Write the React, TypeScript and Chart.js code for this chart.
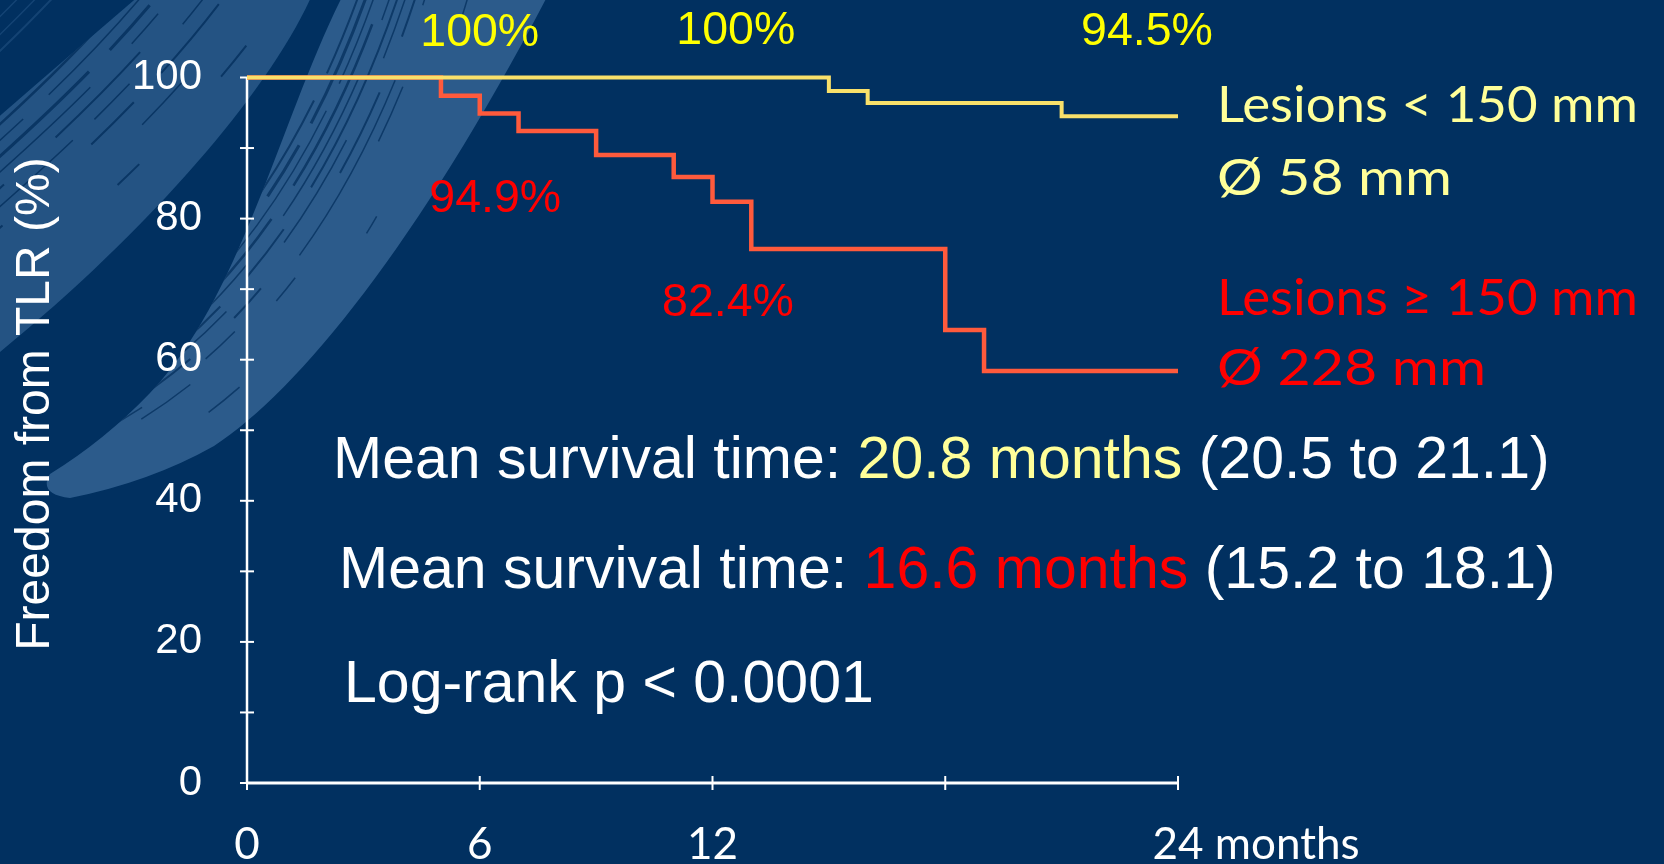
import React, { useEffect, useRef } from 'react';
import { Chart, registerables } from 'chart.js';

Chart.register(...registerables);

// ---------------- data ----------------
const shortLesionMonths = [0, 15, 16, 21, 24];
const shortLesionSurvival = [100, 98.1, 96.4, 94.5, 94.5];
const longLesionMonths = [0, 5, 6, 7, 9, 11, 12, 13, 18, 19, 24];
const longLesionSurvival = [100, 97.4, 94.9, 92.4, 89.0, 85.9, 82.4, 75.7, 64.2, 58.4, 58.4];

const xTickValues = [0, 6, 12, 18, 24];
const xTickLabels = ['0', '6', '12', '', '24'];
const xUnitLabel = 'months';
const yTickStep = 10;
const yLabelStep = 20;
const yAxisTitle = 'Freedom from TLR (%)';

const pctLabelTexts = ['100%', '100%', '94.5%', '94.9%', '82.4%'];
const pctLabelMonths = [6.0, 12.6, 23.2, 6.4, 12.4];
const pctLabelValues = [104.5, 104.8, 104.6, 81.0, 66.2];
const pctLabelGroups = ['short', 'short', 'short', 'long', 'long'];

const legendLines = ['Lesions < 150 mm', 'Ø 58 mm', 'Lesions ≥ 150 mm', 'Ø 228 mm'];
const legendGroups = ['short', 'short', 'long', 'long'];

const meanLineShort = ['Mean survival time: ', '20.8 months', ' (20.5 to 21.1)'];
const meanLineLong = ['Mean survival time: ', '16.6 months', ' (15.2 to 18.1)'];
const logRankText = 'Log-rank p < 0.0001';

// ---------------- styles ----------------
const W = 1664;
const H = 864;
const BG = '#013060';
const BRUSH = '#2C5B8B';
const WHITE = '#FFFFFF';
const LINE_SHORT = '#F9E06A';
const LINE_LONG = '#FF5A3C';
const PCT_SHORT = '#FFFF00';
const PCT_LONG = '#FF0000';
const TXT_SHORT = '#FFFF99';
const TXT_LONG = '#FF0000';
const ARIAL = "'Liberation Sans', Arial, sans-serif";
const CAL = "Lato, 'Open Sans', sans-serif";

const legendX = 1217;
const legendBaselines = [122, 195, 315, 385];
const legendWidths = [421, 235, 421, 269];

function drawBrush(ctx: CanvasRenderingContext2D) {
  // band 1 (upper-left, streaky)
  const p1 = new Path2D();
  p1.moveTo(-5, 120);
  p1.quadraticCurveTo(70, 55, 140, -5);
  p1.lineTo(312, -5);
  p1.bezierCurveTo(270, 90, 150, 230, -5, 356);
  p1.closePath();
  // band 2 (brighter)
  const p2 = new Path2D();
  p2.moveTo(343, -5);
  p2.bezierCurveTo(280, 120, 240, 300, 150, 393);
  p2.quadraticCurveTo(105, 440, 50, 474);
  p2.quadraticCurveTo(38, 494, 70, 498);
  p2.quadraticCurveTo(150, 482, 214, 446);
  p2.bezierCurveTo(300, 390, 420, 240, 548, -5);
  p2.closePath();

  ctx.save();
  ctx.fillStyle = 'rgba(44,91,139,0.82)';
  ctx.fill(p1);
  ctx.fillStyle = BRUSH;
  ctx.fill(p2);

  const streaks1: [number, number, number[]][] = [
    [-120, 2, [220, 30, 60, 40]], [-108, 3, [140, 25, 90, 30]], [-96, 1.5, [300, 40]],
    [-86, 2.5, [80, 50, 200, 20]], [-74, 1.5, [180, 35]], [-62, 3, [60, 40, 160, 30]],
    [-50, 1.5, [250, 60, 40, 30]], [-38, 2, [120, 70]], [-24, 1.5, [200, 30, 50, 80]],
    [-8, 2, [90, 120, 60, 40]], [14, 1.5, [60, 200]], [40, 2, [40, 160, 30, 120]],
  ];
  ctx.save();
  ctx.clip(p1);
  ctx.strokeStyle = 'rgba(1,44,90,0.75)';
  for (const [k, w, dash] of streaks1) {
    const dx = k * 0.7, dy = k * 0.7;
    ctx.lineWidth = w;
    ctx.setLineDash(dash);
    ctx.beginPath();
    ctx.moveTo(-60 + dx, 290 + dy);
    ctx.bezierCurveTo(80 + dx, 170 + dy, 180 + dx, 80 + dy, 260 + dx, -40 + dy);
    ctx.stroke();
  }
  ctx.restore();

  ctx.save();
  ctx.strokeStyle = 'rgba(44,91,139,0.45)';
  const fringe: [number, number, number[]][] = [
    [-140, 2, [120, 60, 200, 40]], [-152, 1.5, [60, 80, 140, 50]], [-165, 1.5, [90, 120]],
  ];
  for (const [k, w, dash] of fringe) {
    const dx = k * 0.7, dy = k * 0.7;
    ctx.lineWidth = w;
    ctx.setLineDash(dash);
    ctx.beginPath();
    ctx.moveTo(-60 + dx, 290 + dy);
    ctx.bezierCurveTo(80 + dx, 170 + dy, 180 + dx, 80 + dy, 260 + dx, -40 + dy);
    ctx.stroke();
  }
  ctx.restore();

  const streaks2: [number, number, number[]][] = [
    [-82, 2, [200, 30, 80, 40]], [-74, 3, [140, 40, 60, 25]], [-66, 1.5, [260, 30]],
    [-58, 2.5, [90, 40, 180, 30]], [-50, 1.5, [160, 60]], [-42, 2, [60, 50, 220, 40]],
    [-34, 1.5, [120, 90]], [-24, 2, [40, 140, 90, 60]], [-14, 1.5, [200, 80, 40, 100]],
    [-4, 1.5, [30, 160, 60, 120]], [30, 1.5, [20, 220, 40, 200]],
  ];
  ctx.save();
  ctx.clip(p2);
  ctx.strokeStyle = 'rgba(1,44,90,0.7)';
  for (const [k, w, dash] of streaks2) {
    const dx = k * 0.77, dy = k * 0.64;
    ctx.lineWidth = w;
    ctx.setLineDash(dash);
    ctx.beginPath();
    ctx.moveTo(-30 + dx, 495 + dy);
    ctx.bezierCurveTo(190 + dx, 440 + dy, 360 + dx, 280 + dy, 450 + dx, -40 + dy);
    ctx.stroke();
  }
  ctx.restore();
  ctx.restore();
}

const backgroundPlugin = {
  id: 'bgBrush',
  beforeDraw(chart: any) {
    const ctx = chart.ctx as CanvasRenderingContext2D;
    ctx.save();
    ctx.fillStyle = BG;
    ctx.fillRect(0, 0, chart.width, chart.height);
    drawBrush(ctx);
    ctx.restore();
  },
};

const axesPlugin = {
  id: 'crossAxes',
  beforeDatasetsDraw(chart: any) {
    const ctx = chart.ctx as CanvasRenderingContext2D;
    const xs = chart.scales.x;
    const ys = chart.scales.y;
    const x0 = xs.getPixelForValue(0);
    const x1 = xs.getPixelForValue(24);
    const y0 = ys.getPixelForValue(0);
    const y1 = ys.getPixelForValue(100);
    ctx.save();
    ctx.strokeStyle = WHITE;
    ctx.lineCap = 'butt';
    ctx.lineWidth = 2.5;
    ctx.beginPath();
    ctx.moveTo(x0, y0 + 1);
    ctx.lineTo(x0, y1);
    ctx.stroke();
    ctx.lineWidth = 3;
    ctx.beginPath();
    ctx.moveTo(x0, y0);
    ctx.lineTo(x1, y0);
    ctx.stroke();
    ctx.lineWidth = 2;
    for (let v = 0; v <= 100; v += yTickStep) {
      const py = ys.getPixelForValue(v);
      ctx.beginPath();
      ctx.moveTo(x0 - 7, py);
      ctx.lineTo(x0 + 7, py);
      ctx.stroke();
    }
    for (const v of xTickValues) {
      const px = xs.getPixelForValue(v);
      ctx.beginPath();
      ctx.moveTo(px, y0 - 7);
      ctx.lineTo(px, y0 + 7);
      ctx.stroke();
    }
    ctx.restore();
  },
};

function drawSegments(ctx: CanvasRenderingContext2D, parts: string[], colors: string[], x: number, y: number) {
  let cx = x;
  parts.forEach((p, i) => {
    ctx.fillStyle = colors[i];
    ctx.fillText(p, cx, y);
    cx += ctx.measureText(p).width;
  });
}

const textPlugin = {
  id: 'texts',
  afterDraw(chart: any) {
    const ctx = chart.ctx as CanvasRenderingContext2D;
    const xs = chart.scales.x;
    const ys = chart.scales.y;
    ctx.save();
    ctx.textBaseline = 'alphabetic';

    ctx.font = `44px ${CAL}`;
    ctx.fillStyle = WHITE;
    const xBase = ys.getPixelForValue(0) + 76;
    xTickValues.forEach((v, i) => {
      const lbl = xTickLabels[i];
      if (!lbl) return;
      const px = xs.getPixelForValue(v);
      ctx.textAlign = 'center';
      ctx.fillText(lbl, px, xBase);
      if (i === xTickValues.length - 1) {
        const w = ctx.measureText(lbl).width;
        ctx.textAlign = 'left';
        ctx.fillText(' ' + xUnitLabel, px + w / 2, xBase);
      }
    });

    ctx.save();
    ctx.font = `48px ${ARIAL}`;
    ctx.fillStyle = WHITE;
    ctx.textAlign = 'center';
    ctx.translate(49, 404);
    ctx.rotate(-Math.PI / 2);
    ctx.fillText(yAxisTitle, 0, 0);
    ctx.restore();

    ctx.font = `46.5px ${ARIAL}`;
    ctx.textAlign = 'center';
    pctLabelTexts.forEach((t, i) => {
      ctx.fillStyle = pctLabelGroups[i] === 'short' ? PCT_SHORT : PCT_LONG;
      ctx.fillText(t, xs.getPixelForValue(pctLabelMonths[i]), ys.getPixelForValue(pctLabelValues[i]));
    });

    ctx.textAlign = 'left';
    ctx.font = `51px ${CAL}`;
    legendLines.forEach((t, i) => {
      const w = ctx.measureText(t).width;
      ctx.save();
      ctx.translate(legendX, legendBaselines[i]);
      ctx.scale(legendWidths[i] / w, 1);
      ctx.fillStyle = legendGroups[i] === 'short' ? TXT_SHORT : TXT_LONG;
      ctx.fillText(t, 0, 0);
      ctx.restore();
    });

    ctx.font = `59px ${ARIAL}`;
    drawSegments(ctx, meanLineShort, [WHITE, TXT_SHORT, WHITE], 333, 478);
    drawSegments(ctx, meanLineLong, [WHITE, TXT_LONG, WHITE], 339, 588);
    ctx.fillStyle = WHITE;
    ctx.fillText(logRankText, 344, 702);

    ctx.restore();
  },
};

export default function App() {
  const ref = useRef<HTMLCanvasElement | null>(null);

  useEffect(() => {
    if (!ref.current) return;
    const chart = new Chart(ref.current, {
      type: 'line',
      data: {
        datasets: [
          {
            label: 'Lesions < 150 mm',
            data: shortLesionMonths.map((m, i) => ({ x: m, y: shortLesionSurvival[i] })),
            borderColor: LINE_SHORT,
            borderWidth: 4,
            stepped: true,
            pointRadius: 0,
            fill: false,
            clip: false,
          },
          {
            label: 'Lesions ≥ 150 mm',
            data: longLesionMonths.map((m, i) => ({ x: m, y: longLesionSurvival[i] })),
            borderColor: LINE_LONG,
            borderWidth: 4.5,
            stepped: true,
            pointRadius: 0,
            fill: false,
            clip: false,
          },
        ],
      },
      options: {
        responsive: false,
        animation: false,
        devicePixelRatio: 1,
        events: [],
        layout: { padding: { left: 0, right: W - 1178, top: 77.5, bottom: 0 } },
        plugins: { legend: { display: false }, tooltip: { enabled: false } },
        scales: {
          x: {
            type: 'linear',
            min: 0,
            max: 24,
            afterBuildTicks: (s: any) => { s.ticks = xTickValues.map((v) => ({ value: v })); },
            ticks: { display: false },
            grid: { display: false, drawTicks: false },
            border: { display: false },
            afterFit: (s: any) => { s.height = H - 783; },
          },
          y: {
            type: 'linear',
            min: 0,
            max: 100,
            ticks: {
              stepSize: yTickStep,
              autoSkip: false,
              callback: (v: any) => (Number(v) % yLabelStep === 0 ? String(v) : ''),
              color: WHITE,
              font: { family: ARIAL, size: 42 },
              padding: 45,
            },
            grid: { display: false, drawTicks: false },
            border: { display: false },
            afterFit: (s: any) => { s.width = 247; },
          },
        },
      },
      plugins: [backgroundPlugin, axesPlugin, textPlugin],
    } as any);
    return () => chart.destroy();
  }, []);

  return (
    <div style={{ position: 'absolute', left: 0, top: 0, width: W, height: H, background: BG, overflow: 'hidden' }}>
      <canvas ref={ref} width={W} height={H} style={{ display: 'block', width: W, height: H }} />
    </div>
  );
}
